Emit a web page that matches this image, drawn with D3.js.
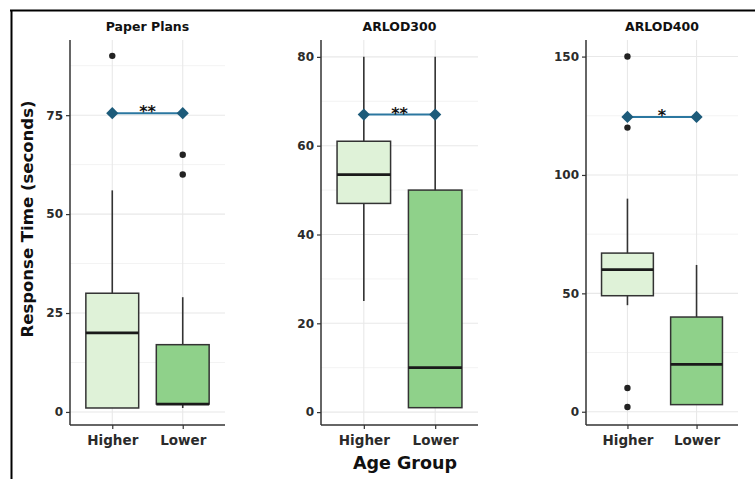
<!DOCTYPE html>
<html>
<head>
<script src="https://d3js.org/d3.v7.min.js"></script>
<style>
body { margin: 0; background: #fff; }
svg text { font-family: "DejaVu Sans", sans-serif; font-weight: bold; }
</style>
</head>
<body>
<script>
// data
var panels = ["Paper Plans", "ARLOD300", "ARLOD400"];
var groups = ["Higher", "Lower"];
// [lower whisker, q1, median, q3, upper whisker] per group
var paperStats = [[1, 1, 20, 30, 56], [1, 2, 2, 17, 29]];
var arlod300Stats = [[25, 47, 53.5, 61, 80], [1, 1, 10, 50, 80]];
var arlod400Stats = [[45, 49, 60, 67, 90], [3, 3, 20, 40, 62]];
var paperOutliers = [[90], [65, 60]];
var arlod300Outliers = [[], []];
var arlod400Outliers = [[150, 120, 10, 2], []];
var sigY = [75.5, 67, 124.5];
var sigLabels = ["**", "**", "*"];
var paperTicks = [0, 25, 50, 75];
var arlod300Ticks = [0, 20, 40, 60, 80];
var arlod400Ticks = [0, 50, 100, 150];
var paperMinor = [12.5, 37.5, 62.5, 87.5];
var arlod300Minor = [10, 30, 50, 70];
var arlod400Minor = [25, 75, 125];

var stats = [paperStats, arlod300Stats, arlod400Stats];
var outliers = [paperOutliers, arlod300Outliers, arlod400Outliers];
var ticks = [paperTicks, arlod300Ticks, arlod400Ticks];
var minors = [paperMinor, arlod300Minor, arlod400Minor];

var W = 755, H = 479;
var plotTop = 40, plotBottom = 425;
var layout = [
  {left: 70, right: 225, domain: [-3.3, 94]},
  {left: 321, right: 478, domain: [-2.9, 83.8]},
  {left: 586, right: 738, domain: [-5.6, 157]}
];
var fills = ["#dff2d8", "#8fd18a"];

var svg = d3.select("body").append("svg")
    .attr("width", W)
    .attr("height", H);

// frame
svg.append("line").attr("x1", 10).attr("x2", W).attr("y1", 10.5).attr("y2", 10.5)
    .attr("stroke", "#000").attr("stroke-width", 2);
svg.append("line").attr("x1", 11.5).attr("x2", 11.5).attr("y1", 10).attr("y2", H)
    .attr("stroke", "#000").attr("stroke-width", 2);

panels.forEach(function(name, p) {
  var L = layout[p];
  var x = d3.scaleLinear().domain([0.4, 2.6]).range([L.left, L.right]);
  var y = d3.scaleLinear().domain(L.domain).range([plotBottom, plotTop]);
  var g = svg.append("g");
  var bw = x(1.375) - x(1);

  // grid
  g.selectAll(".minor").data(minors[p]).enter().append("line")
      .attr("x1", L.left).attr("x2", L.right)
      .attr("y1", function(d) { return y(d); }).attr("y2", function(d) { return y(d); })
      .attr("stroke", "#f3f3f3").attr("stroke-width", 1);
  g.selectAll(".major").data(ticks[p]).enter().append("line")
      .attr("x1", L.left).attr("x2", L.right)
      .attr("y1", function(d) { return y(d); }).attr("y2", function(d) { return y(d); })
      .attr("stroke", "#e8e8e8").attr("stroke-width", 1.1);
  g.selectAll(".vgrid").data(groups).enter().append("line")
      .attr("x1", function(d, i) { return x(i + 1); }).attr("x2", function(d, i) { return x(i + 1); })
      .attr("y1", plotTop).attr("y2", plotBottom)
      .attr("stroke", "#e8e8e8").attr("stroke-width", 1.1);

  // boxes
  stats[p].forEach(function(s, i) {
    var cx = x(i + 1);
    g.append("line").attr("x1", cx).attr("x2", cx)
        .attr("y1", y(s[0])).attr("y2", y(s[4]))
        .attr("stroke", "#333").attr("stroke-width", 1.6);
    g.append("rect")
        .attr("x", cx - bw).attr("width", 2 * bw)
        .attr("y", y(s[3])).attr("height", Math.max(1, y(s[1]) - y(s[3])))
        .attr("fill", fills[i]).attr("stroke", "#333").attr("stroke-width", 1.5);
    g.append("line").attr("x1", cx - bw).attr("x2", cx + bw)
        .attr("y1", y(s[2])).attr("y2", y(s[2]))
        .attr("stroke", "#1a1a1a").attr("stroke-width", 2.8);
    g.selectAll(".out" + i).data(outliers[p][i]).enter().append("circle")
        .attr("cx", cx).attr("cy", function(d) { return y(d); })
        .attr("r", 3.2).attr("fill", "#222");
  });

  // significance bar
  var sy = y(sigY[p]);
  g.append("line").attr("x1", x(1)).attr("x2", x(2)).attr("y1", sy).attr("y2", sy)
      .attr("stroke", "#2b77a0").attr("stroke-width", 2);
  g.selectAll(".dia").data(groups).enter().append("path")
      .attr("d", d3.symbol().type(d3.symbolDiamond2).size(95))
      .attr("transform", function(d, i) { return "translate(" + x(i + 1) + "," + sy + ")"; })
      .attr("fill", "#1d5b7a");
  g.append("text").attr("x", x(1.5)).attr("y", sy + 4)
      .attr("text-anchor", "middle").attr("font-size", 16).attr("fill", "#111")
      .text(sigLabels[p]);

  // axes
  var yAxis = g.append("g").attr("transform", "translate(" + L.left + ",0)")
      .call(d3.axisLeft(y).tickValues(ticks[p]).tickSize(4).tickPadding(3));
  var xAxis = g.append("g").attr("transform", "translate(0," + plotBottom + ")")
      .call(d3.axisBottom(x).tickValues([1, 2]).tickSize(4).tickPadding(6)
        .tickFormat(function(d) { return groups[d - 1]; }));
  [yAxis, xAxis].forEach(function(a) {
    a.select(".domain").attr("stroke", "#333").attr("stroke-width", 1.5)
        .attr("d", a === yAxis ? "M0," + plotTop + "V" + plotBottom : "M" + L.left + ",0H" + L.right);
    a.selectAll(".tick line").attr("stroke", "#333").attr("stroke-width", 1.2);
    a.selectAll(".tick text").attr("fill", "#2b2b2b")
        .style("font-family", "DejaVu Sans").style("font-weight", "bold");
  });
  yAxis.selectAll(".tick text").style("font-size", "12px");
  xAxis.selectAll(".tick text").style("font-size", "13.5px");

  // panel title
  g.append("text").attr("x", (L.left + L.right) / 2).attr("y", 31)
      .attr("text-anchor", "middle").attr("font-size", 12.5).attr("fill", "#111")
      .text(name);
});

svg.append("text")
    .attr("transform", "translate(33,219) rotate(-90)")
    .attr("text-anchor", "middle").attr("font-size", 16.5).attr("fill", "#111")
    .text("Response Time (seconds)");

svg.append("text")
    .attr("x", 405).attr("y", 469)
    .attr("text-anchor", "middle").attr("font-size", 17.5).attr("fill", "#111")
    .text("Age Group");
</script>
</body>
</html>
